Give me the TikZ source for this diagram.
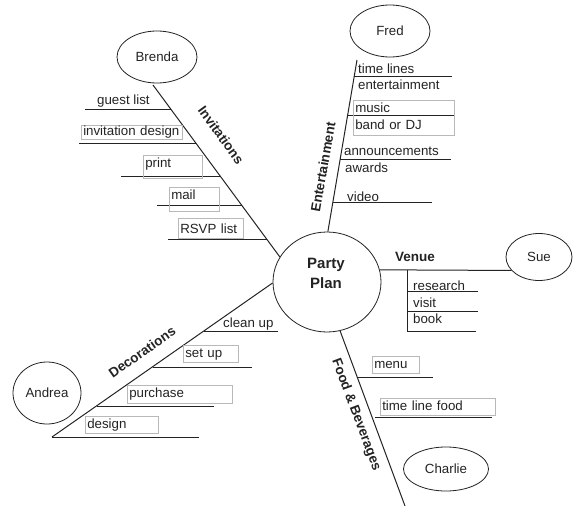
\documentclass[tikz,border=0pt]{standalone}
\usepackage{fontspec}
\setmainfont{Liberation Sans}
\usepackage{tikz}
\usetikzlibrary{shapes.geometric, positioning, calc}
\definecolor{inkdark}{RGB}{35,35,35}
\definecolor{boxgray}{RGB}{185,185,185}
\newcommand{\fishfont}{\fontsize{13.3}{17}\selectfont}
\newcommand{\fishbold}{\fontsize{13.5}{16}\selectfont\bfseries}
\tikzset{
  person/.style={ellipse, draw=inkdark, line width=0.8pt, inner sep=0pt,
    font=\fishfont, text=inkdark},
  hubnode/.style={ellipse, draw=inkdark, line width=0.8pt,
    minimum width=108pt, minimum height=100pt},
  bone/.style={draw=inkdark, line width=1pt},
  rib/.style={draw=inkdark, line width=1pt},
  item/.style={anchor=base west, inner sep=0pt, font=\fishfont, text=inkdark},
  fieldbox/.style={draw=boxgray, line width=0.5pt, anchor=north west, align=left,
    inner xsep=2pt, inner ysep=1pt, text height=11pt, font=\fishfont, text=inkdark},
  bonelabel/.style={font=\fishbold, inner sep=0pt, text=inkdark}
}

\begin{document}
\begin{tikzpicture}[x=1pt, y=-1pt]
  \useasboundingbox (0,0) rectangle (573,506);

  % Hub
  \node[hubnode] (hub) at (327,282) {};
  \node[font=\fontsize{15}{20}\selectfont\bfseries, align=center, text=inkdark] (plan) at (326,273) {Party\\Plan};

  % People
  \node[person, minimum width=80pt, minimum height=52pt] (brenda) at (157,57) {Brenda};
  \node[person, minimum width=80pt, minimum height=52pt] (fred) at (390,31) {Fred};
  \node[person, minimum width=66pt, minimum height=47pt] (sue) at (539,257) {Sue};
  \node[person, minimum width=85pt, minimum height=44pt] (charlie) at (446,469) {Charlie};
  \node[person, minimum width=68pt, minimum height=62pt] (andrea) at (47,393) {Andrea};

  % Main bones
  \coordinate (invtop) at (153,85);
  \coordinate (enttop) at (357,60);
  \coordinate (foodend) at (405,506);
  \coordinate (decoend) at (52,437);
  \draw[bone] (invtop) -- (hub.152);
  \draw[bone] (enttop) -- (hub.89);
  \draw[bone] (hub.13) -- (sue.206);
  \draw[bone] (hub.-75) -- (foodend);
  \draw[bone] (hub.181) -- (decoend);

  % Bone labels
  \node[bonelabel, rotate=-54] (invlabel) at (221,135) {Invitations};
  \node[bonelabel, rotate=80] (entlabel) at (323,167) {Entertainment};
  \node[bonelabel] (venuelabel) at (415,257) {Venue};
  \node[bonelabel, rotate=-69.5] (foodlabel) at (356,415) {Food \& Beverages};
  \node[bonelabel, rotate=35] (decolabel) at (142,352) {Decorations};

  % Invitations ribs
  \draw[rib] (85,109) -- (170.7,109);
  \draw[rib] (79,143) -- (195.9,143);
  \draw[rib] (121,176) -- (220.2,176);
  \draw[rib] (157,205) -- (241.7,205);
  \draw[rib] (168,239) -- (266.8,239);
  \node[item] (guest) at (97,104) {guest list};
  \node[fieldbox, text height=9pt, text depth=3pt, text width=97pt] (invdesign) at (81,125) {invitation design};
  \node[fieldbox, text depth=10pt, text width=55pt] (print) at (143,155) {print};
  \node[fieldbox, text depth=11pt, text width=46pt] (mail) at (169,187) {mail};
  \node[fieldbox, text height=14pt, text depth=4pt, text width=61pt] (rsvp) at (178,218) {RSVP list};

  % Entertainment ribs
  \draw[rib] (354.3,76) -- (452,76);
  \draw[rib] (347.7,115) -- (454,115);
  \draw[rib] (340.3,159) -- (451,159);
  \draw[rib] (333,202) -- (432,202);
  \node[item] (timelines) at (358,73) {time lines};
  \node[item] (entertain) at (358,89) {entertainment};
  \node[fieldbox, text depth=22pt, text width=97pt] (music) at (353,100) {music\\band or DJ};
  \node[item] (announce) at (344,155) {announcements};
  \node[item] (awards) at (345,172) {awards};
  \node[item] (video) at (347,201) {video};

  % Venue ribs
  \coordinate (venuefork) at (407,270);
  \draw[rib] (venuefork) -- (407,331);
  \draw[rib] (407,291) -- (478,291);
  \draw[rib] (407,311) -- (478,311);
  \draw[rib] (407,331) -- (476,331);
  \node[item] (research) at (413,290) {research};
  \node[item] (visit) at (413,307) {visit};
  \node[item] (book) at (413,323) {book};

  % Food ribs
  \draw[rib] (357.2,377) -- (433,377);
  \draw[rib] (375,417) -- (492,417);
  \node[fieldbox, text depth=4pt, text width=43pt] (menu) at (372,356) {menu};
  \node[fieldbox, text depth=4pt, text width=111pt] (timefood) at (380,398) {time line food};

  % Decorations ribs
  \draw[rib] (204.1,331) -- (278,331);
  \draw[rib] (152.5,367) -- (252,367);
  \draw[rib] (96.5,406) -- (214,406);
  \draw[rib] (decoend) -- (199,437);
  \node[item] (cleanup) at (223,327) {clean up};
  \node[fieldbox, text depth=4pt, text width=51pt] (setup) at (183,345) {set up};
  \node[fieldbox, text depth=5pt, text width=101pt] (purchase) at (127,385) {purchase};
  \node[fieldbox, text depth=4pt, text width=69pt] (decodesign) at (85,416) {design};
\end{tikzpicture}
\end{document}
